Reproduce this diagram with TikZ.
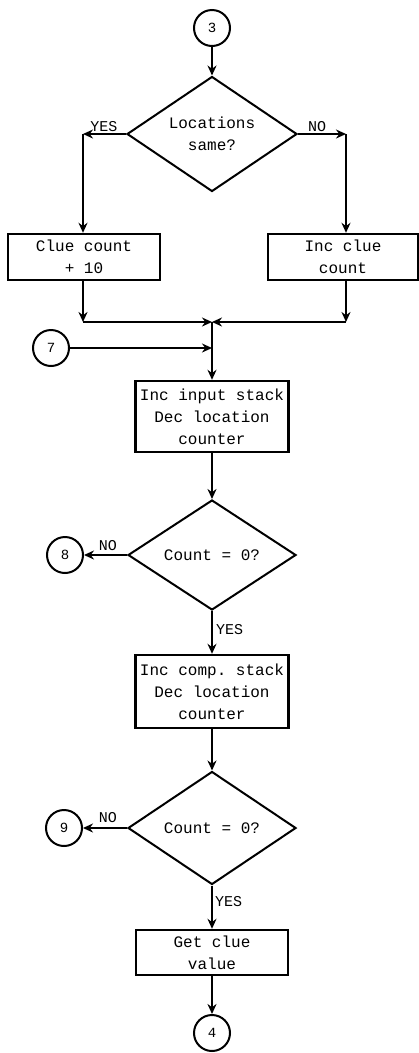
\documentclass[tikz,border=0pt]{standalone}
\usepackage{fontspec}
\setmonofont{Liberation Mono}
\usetikzlibrary{shapes.geometric,arrows.meta}
\begin{document}
\begin{tikzpicture}[x=1pt,y=-1pt,
  every node/.style={inner sep=0pt},
  line/.style={line width=2.2pt},
  arr/.style={line width=2.2pt,-{Stealth[length=10pt,width=9pt]}},
  stepbox/.style={draw,line width=2.4pt,align=center,font=\ttfamily\fontsize{16}{22}\selectfont},
  decide/.style={draw,diamond,line width=2pt,align=center,aspect=1.5,font=\ttfamily\fontsize{16}{22}\selectfont},
  conn/.style={draw,circle,line width=2pt,minimum size=36pt,font=\ttfamily\fontsize{14}{14}\selectfont},
  lab/.style={font=\ttfamily\fontsize{15}{15}\selectfont}]
\useasboundingbox (0,0) rectangle (419,1053);
% nodes
\node[conn] (c3) at (212,28) {3};
\node[decide,minimum width=170pt,minimum height=115pt] (d1) at (212,134) {Locations\\same?};
\node[stepbox,minimum width=152pt,minimum height=46pt] (b1) at (84,257) {Clue count\\+ 10};
\node[stepbox,minimum width=150pt,minimum height=46pt] (b2) at (343,257) {Inc clue\\count};
\coordinate (j1) at (83,322);
\coordinate (j2) at (346,322);
\coordinate (jm) at (212,322);
\coordinate (yl) at (83,134);
\coordinate (nr) at (346,134);
\node[conn] (c7) at (51,348) {7};
\coordinate (m7) at (212,348);
\node[stepbox,minimum width=153pt,minimum height=71pt] (b3) at (212,416.5) {Inc input stack\\Dec location\\counter};
\node[decide,minimum width=168pt,minimum height=110pt] (d2) at (212,555) {Count = 0?};
\node[conn] (c8) at (65,555) {8};
\node[stepbox,minimum width=153pt,minimum height=73pt] (b4) at (212,691.5) {Inc comp. stack\\Dec location\\counter};
\node[decide,minimum width=168pt,minimum height=113pt] (d3) at (212,828) {Count = 0?};
\node[conn] (c9) at (64,828) {9};
\node[stepbox,minimum width=152pt,minimum height=45pt] (b5) at (212,952.5) {Get clue\\value};
\node[conn] (c4) at (212,1033) {4};
% connectors
\draw[arr] (c3) -- (d1.north);
\draw[arr] (d1.west) -- (yl);
\draw[arr] (yl) -- (b1.north -| yl);
\draw[arr] (d1.east) -- (nr);
\draw[arr] (nr) -- (b2.north -| nr);
\draw[arr] (b1.south -| j1) -- (j1);
\draw[arr] (b2.south -| j2) -- (j2);
\draw[arr] (j1) -- (jm);
\draw[arr] (j2) -- (jm);
\draw[line] (jm) -- (m7);
\draw[arr] (c7) -- (m7);
\draw[arr] (m7) -- (b3.north);
\draw[arr] (b3.south) -- (d2.north);
\draw[arr] (d2.west) -- (c8);
\draw[arr] (d2.south) -- (b4.north);
\draw[arr] (b4.south) -- (d3.north);
\draw[arr] (d3.west) -- (c9);
\draw[arr] (d3.south) -- (b5.north);
\draw[arr] (b5.south) -- (c4);
% labels
\node[lab,anchor=south] (ly1) at (104,132) {YES};
\node[lab,anchor=south] (ln1) at (317,132) {NO};
\node[lab,anchor=south] (ln2) at (108,551) {NO};
\node[lab,anchor=west] (ly2) at (216,630) {YES};
\node[lab,anchor=south] (ln3) at (108,823) {NO};
\node[lab,anchor=west] (ly3) at (215,902) {YES};
\end{tikzpicture}
\end{document}
